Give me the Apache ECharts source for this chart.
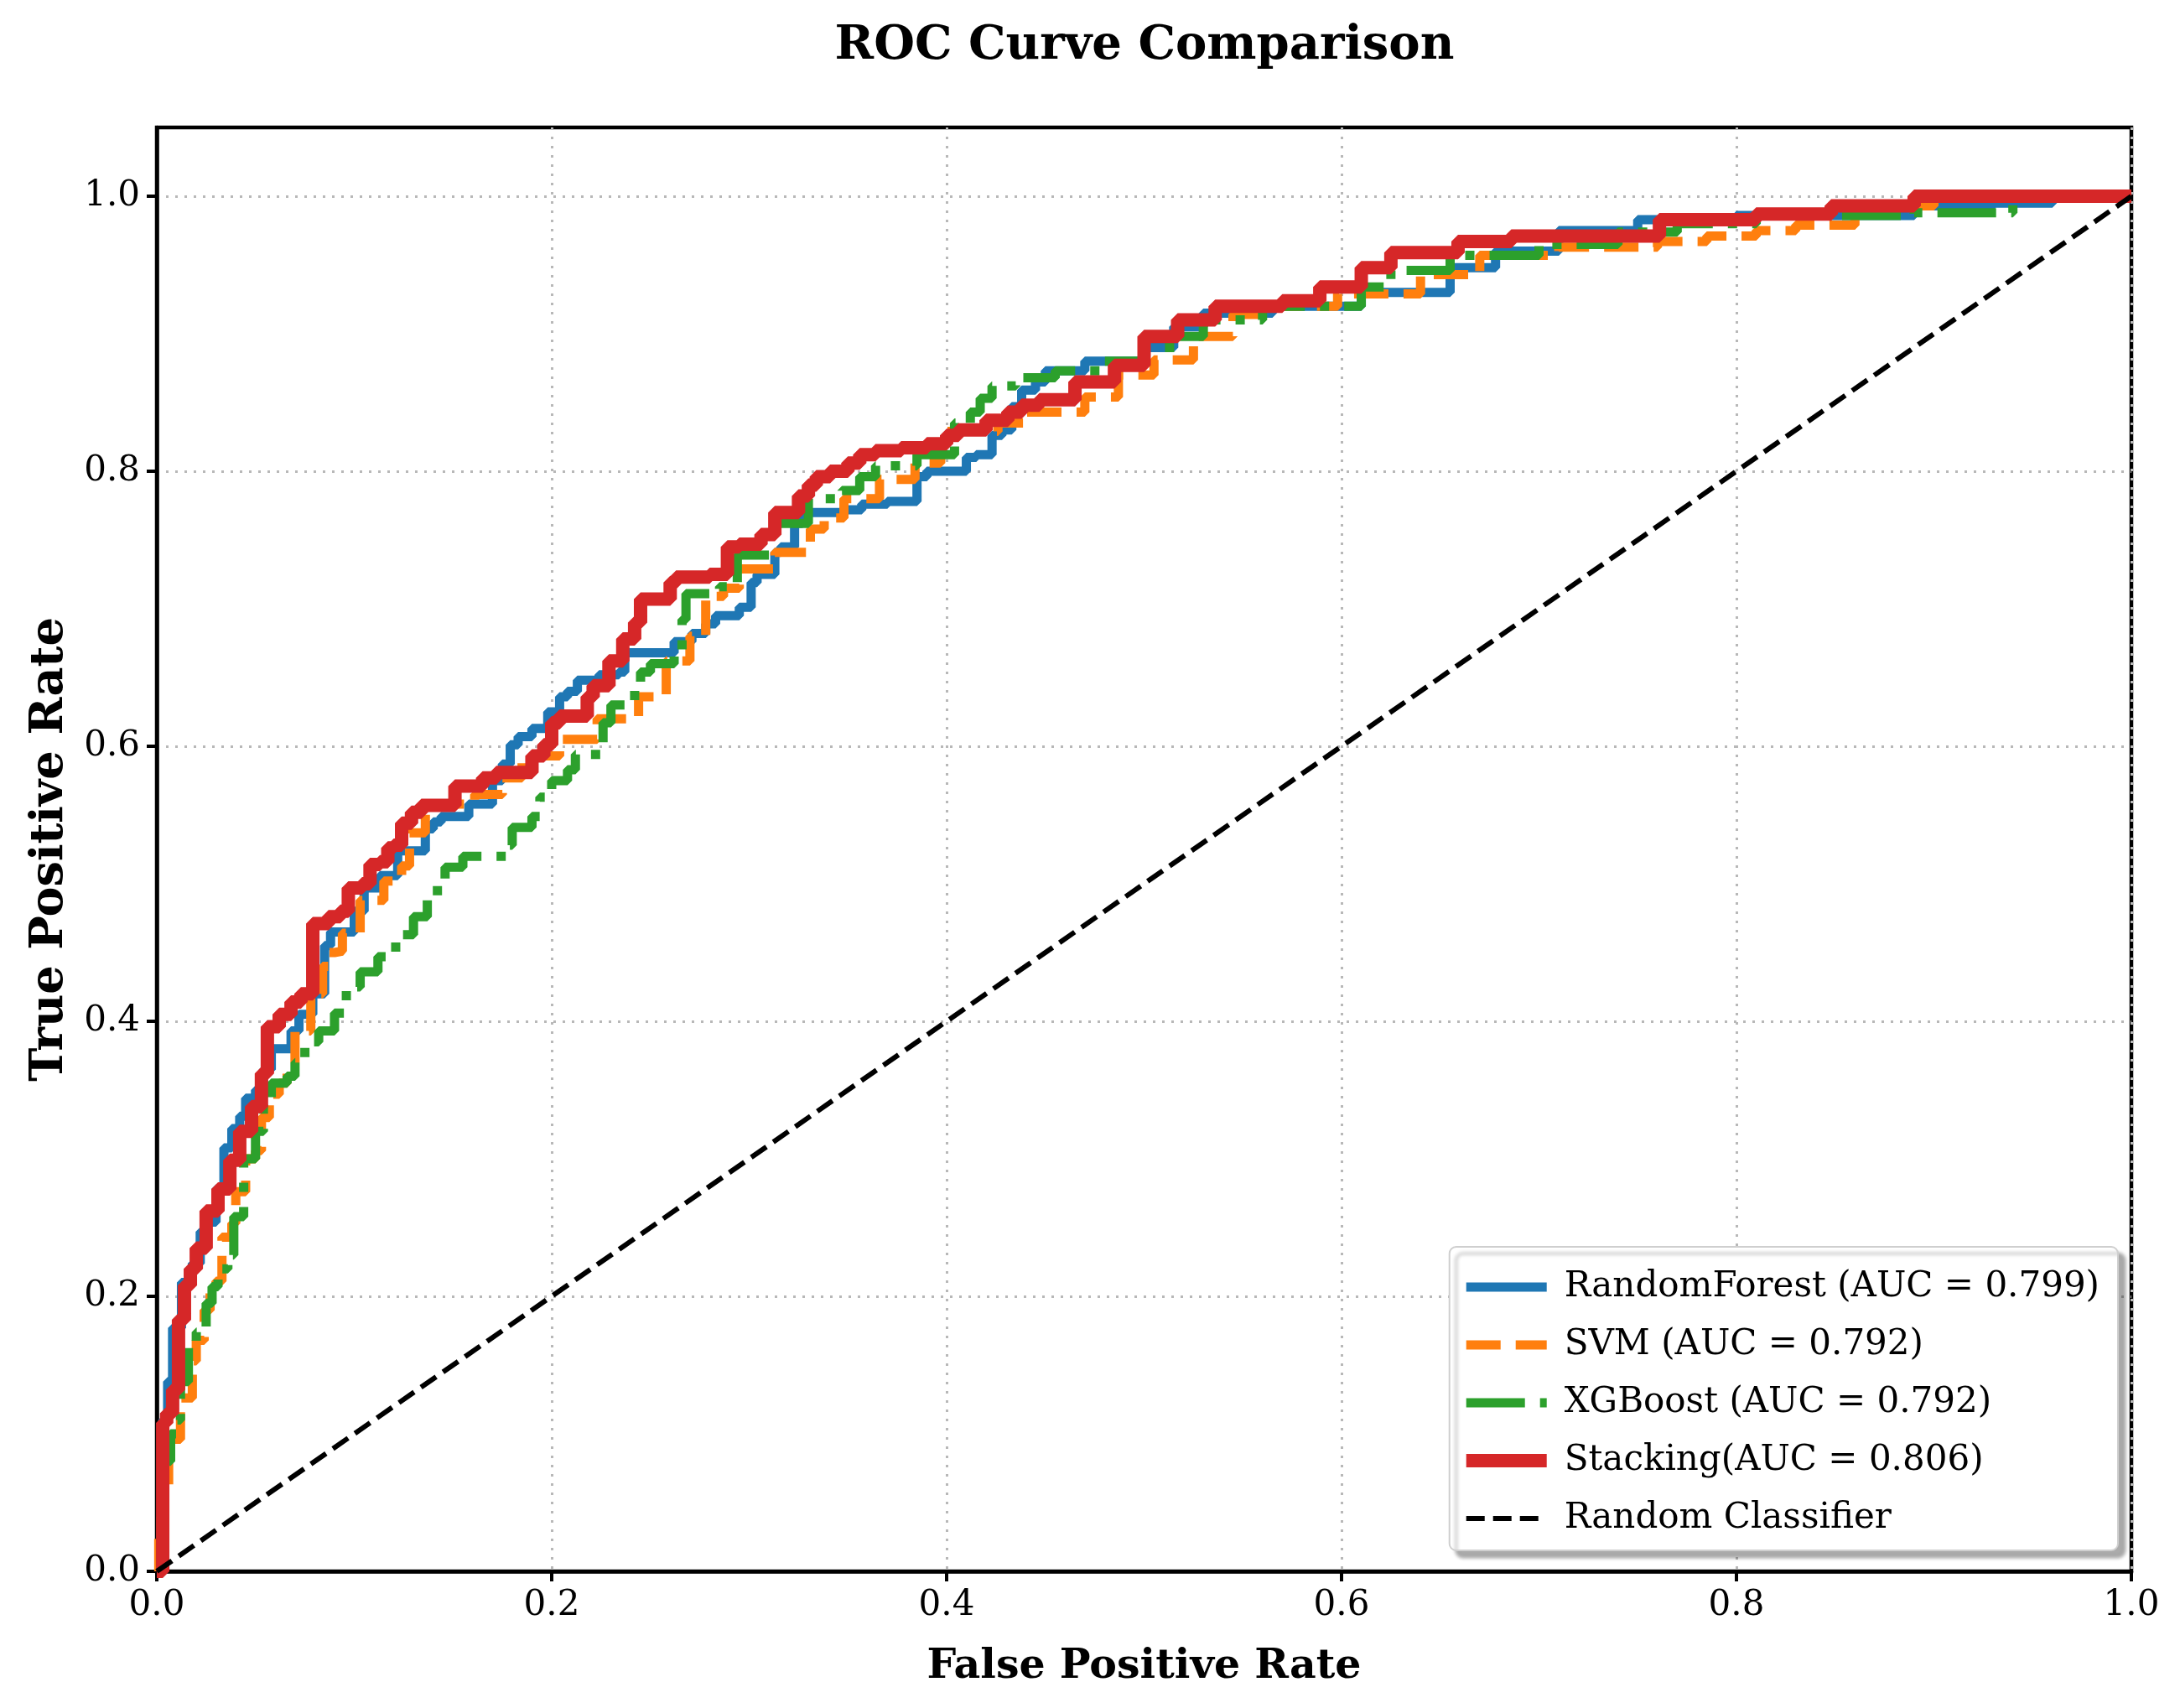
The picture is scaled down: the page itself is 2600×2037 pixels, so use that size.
<!DOCTYPE html>
<html>
<head>
<meta charset="utf-8">
<script src="https://cdn.jsdelivr.net/npm/echarts@6/dist/echarts.min.js"></script>
<style>html,body{margin:0;padding:0;background:#fff;}#chart{width:2600px;height:2037px;}</style>
</head>
<body>
<div id="chart"></div>
<script>
const titleText = 'ROC Curve Comparison';
const xName = 'False Positive Rate';
const yName = 'True Positive Rate';
const xTicks = [0, 0.2, 0.4, 0.6, 0.8, 1.0];
const yTicks = [0, 0.2, 0.4, 0.6, 0.8, 1.0];
const seriesNames = ['RandomForest (AUC = 0.799)', 'SVM (AUC = 0.792)', 'XGBoost (AUC = 0.792)', 'Stacking(AUC = 0.806)', 'Random Classifier'];

// [fpr, tpr] points (step: level starts at fpr)
const rfPoints = [[0,0],[0.003,0.11],[0.0055,0.138],[0.008,0.177],[0.0125,0.21],[0.018,0.224],[0.022,0.247],[0.025,0.254],[0.03,0.278],[0.034,0.308],[0.038,0.322],[0.042,0.331],[0.045,0.344],[0.05,0.35],[0.054,0.365],[0.058,0.38],[0.068,0.393],[0.072,0.405],[0.079,0.42],[0.085,0.455],[0.088,0.465],[0.1,0.48],[0.105,0.497],[0.113,0.506],[0.122,0.524],[0.136,0.54],[0.14,0.545],[0.144,0.549],[0.158,0.558],[0.17,0.575],[0.175,0.587],[0.179,0.601],[0.183,0.607],[0.19,0.613],[0.198,0.625],[0.204,0.636],[0.208,0.64],[0.213,0.648],[0.224,0.652],[0.234,0.654],[0.237,0.668],[0.262,0.676],[0.271,0.682],[0.278,0.689],[0.283,0.695],[0.295,0.701],[0.301,0.719],[0.304,0.725],[0.313,0.741],[0.316,0.745],[0.323,0.762],[0.327,0.77],[0.347,0.772],[0.357,0.776],[0.37,0.778],[0.385,0.796],[0.39,0.8],[0.41,0.81],[0.415,0.812],[0.423,0.826],[0.428,0.83],[0.433,0.847],[0.438,0.859],[0.445,0.865],[0.45,0.873],[0.47,0.88],[0.5,0.89],[0.515,0.905],[0.53,0.915],[0.565,0.92],[0.61,0.93],[0.655,0.948],[0.678,0.96],[0.71,0.975],[0.75,0.983],[0.8,0.986],[0.89,0.993],[0.93,0.995],[0.96,1.0],[1,1]];
const svmPoints = [[0,0],[0.001,0.03],[0.004,0.06],[0.006,0.096],[0.012,0.126],[0.018,0.153],[0.02,0.168],[0.024,0.19],[0.027,0.205],[0.03,0.211],[0.033,0.243],[0.038,0.253],[0.04,0.276],[0.045,0.3],[0.05,0.306],[0.053,0.33],[0.057,0.347],[0.062,0.355],[0.066,0.37],[0.07,0.393],[0.078,0.42],[0.084,0.44],[0.087,0.45],[0.09,0.451],[0.094,0.464],[0.103,0.488],[0.115,0.502],[0.124,0.513],[0.128,0.537],[0.136,0.558],[0.161,0.565],[0.175,0.577],[0.185,0.593],[0.204,0.605],[0.223,0.62],[0.244,0.636],[0.258,0.662],[0.27,0.68],[0.278,0.709],[0.287,0.715],[0.295,0.729],[0.313,0.741],[0.331,0.758],[0.338,0.766],[0.348,0.78],[0.366,0.794],[0.384,0.806],[0.397,0.829],[0.426,0.835],[0.44,0.843],[0.47,0.854],[0.487,0.87],[0.505,0.881],[0.525,0.898],[0.545,0.914],[0.565,0.92],[0.598,0.929],[0.64,0.943],[0.67,0.957],[0.71,0.963],[0.76,0.967],[0.785,0.971],[0.81,0.975],[0.83,0.979],[0.86,0.993],[0.9,1.0],[1,1]];
const xgbPoints = [[0,0],[0.002,0.05],[0.004,0.08],[0.007,0.1],[0.01,0.11],[0.012,0.138],[0.016,0.163],[0.02,0.174],[0.025,0.195],[0.028,0.207],[0.031,0.22],[0.036,0.23],[0.039,0.258],[0.044,0.3],[0.05,0.32],[0.054,0.34],[0.058,0.355],[0.066,0.36],[0.07,0.37],[0.075,0.385],[0.082,0.393],[0.09,0.406],[0.096,0.425],[0.103,0.436],[0.112,0.447],[0.121,0.463],[0.13,0.476],[0.137,0.495],[0.146,0.512],[0.155,0.52],[0.177,0.528],[0.18,0.541],[0.19,0.549],[0.194,0.563],[0.2,0.575],[0.208,0.583],[0.212,0.594],[0.226,0.617],[0.23,0.63],[0.242,0.644],[0.245,0.654],[0.25,0.66],[0.262,0.67],[0.266,0.692],[0.268,0.711],[0.285,0.716],[0.294,0.739],[0.31,0.762],[0.33,0.78],[0.347,0.786],[0.356,0.796],[0.364,0.804],[0.385,0.812],[0.404,0.835],[0.412,0.843],[0.417,0.853],[0.423,0.862],[0.435,0.868],[0.455,0.873],[0.48,0.88],[0.5,0.89],[0.516,0.898],[0.53,0.91],[0.56,0.92],[0.61,0.934],[0.625,0.946],[0.655,0.957],[0.7,0.965],[0.74,0.974],[0.77,0.98],[0.81,0.986],[0.89,0.988],[0.94,1.0],[1,1]];
const stackingPoints = [[0,0],[0.003,0.108],[0.005,0.115],[0.008,0.132],[0.011,0.183],[0.014,0.208],[0.017,0.22],[0.02,0.235],[0.025,0.262],[0.031,0.278],[0.037,0.299],[0.042,0.32],[0.048,0.338],[0.053,0.362],[0.056,0.396],[0.062,0.405],[0.068,0.414],[0.073,0.42],[0.079,0.471],[0.087,0.476],[0.093,0.48],[0.097,0.497],[0.104,0.5],[0.108,0.514],[0.113,0.516],[0.117,0.526],[0.12,0.528],[0.124,0.544],[0.129,0.552],[0.134,0.557],[0.151,0.571],[0.165,0.577],[0.172,0.581],[0.19,0.593],[0.196,0.601],[0.2,0.617],[0.204,0.622],[0.218,0.636],[0.221,0.644],[0.229,0.662],[0.236,0.678],[0.242,0.69],[0.245,0.707],[0.26,0.719],[0.263,0.723],[0.28,0.725],[0.289,0.745],[0.295,0.747],[0.306,0.754],[0.313,0.77],[0.325,0.782],[0.33,0.79],[0.334,0.796],[0.341,0.8],[0.35,0.806],[0.356,0.812],[0.364,0.815],[0.377,0.817],[0.39,0.82],[0.4,0.826],[0.406,0.83],[0.42,0.837],[0.431,0.843],[0.438,0.848],[0.447,0.852],[0.465,0.865],[0.485,0.877],[0.5,0.898],[0.517,0.91],[0.536,0.92],[0.57,0.924],[0.589,0.934],[0.61,0.948],[0.625,0.959],[0.659,0.967],[0.686,0.971],[0.761,0.983],[0.81,0.987],[0.848,0.993],[0.89,1.0],[1,1]];
const randomPoints = [[0,0],[1,1]];

const FONT = 'DejaVu Serif';
const chart = echarts.init(document.getElementById('chart'), null, {renderer: 'canvas'});

function fmt(v) { return (Math.abs(v * 5 - Math.round(v * 5)) < 1e-6) ? v.toFixed(1) : ''; }

const option = {
  backgroundColor: '#ffffff',
  animation: false,
  title: {
    text: titleText,
    left: 1360,
    top: 22,
    textAlign: 'center',
    textStyle: {fontFamily: FONT, fontWeight: 'bold', fontSize: 56, color: '#000'}
  },
  grid: {
    left: 187, right: 58, top: 152, bottom: 163,
    show: true, borderColor: '#000', borderWidth: 4.5, backgroundColor: 'transparent'
  },
  legend: {
    orient: 'vertical',
    right: 74, top: 1487,
    padding: [27, 22, 17, 12],
    itemWidth: 96, itemHeight: 20, itemGap: 27,
    selectedMode: false,
    backgroundColor: '#ffffff',
    borderColor: '#cfcfcf', borderWidth: 2, borderRadius: 8,
    shadowColor: 'rgba(0,0,0,0.33)', shadowBlur: 4, shadowOffsetX: 8, shadowOffsetY: 8,
    itemStyle: {opacity: 0},
    lineStyle: {width: 'inherit', type: 'inherit', color: 'inherit'},
    textStyle: {fontFamily: FONT, fontSize: 42, color: '#000', padding: [0, 0, 0, 16]},
    data: seriesNames
  },
  xAxis: {
    type: 'value', min: 0, max: 1, interval: 0.2,
    name: xName, nameLocation: 'middle', nameGap: 90,
    nameTextStyle: {fontFamily: FONT, fontWeight: 'bold', fontSize: 49, color: '#000'},
    axisLine: {show: true, lineStyle: {color: '#000', width: 4.5}},
    axisTick: {show: true, length: 12, lineStyle: {color: '#000', width: 4}, customValues: xTicks},
    axisLabel: {fontFamily: FONT, fontSize: 42, color: '#000', margin: 20, formatter: fmt, customValues: xTicks},
    splitLine: {show: true, lineStyle: {color: '#b8b8b8', width: 3, type: [3, 8]}}
  },
  yAxis: {
    type: 'value', min: 0, max: 1.05, interval: 0.2,
    name: yName, nameLocation: 'middle', nameGap: 100, nameRotate: 90,
    nameTextStyle: {fontFamily: FONT, fontWeight: 'bold', fontSize: 54, color: '#000'},
    axisLine: {show: true, lineStyle: {color: '#000', width: 4.5}},
    axisTick: {show: true, length: 12, lineStyle: {color: '#000', width: 4}, customValues: yTicks},
    axisLabel: {fontFamily: FONT, fontSize: 42, color: '#000', margin: 20, formatter: fmt, customValues: yTicks},
    splitLine: {show: true, lineStyle: {color: '#b8b8b8', width: 3, type: [3, 8]}}
  },
  series: [
    {name: seriesNames[0], type: 'line', step: 'end', data: rfPoints, symbol: 'none', z: 2,
     lineStyle: {color: '#1f77b4', width: 11}, itemStyle: {color: '#1f77b4'}},
    {name: seriesNames[1], type: 'line', step: 'end', data: svmPoints, symbol: 'none', z: 3,
     lineStyle: {color: '#ff7f0e', width: 11, type: [41, 18]}, itemStyle: {color: '#ff7f0e'}},
    {name: seriesNames[2], type: 'line', step: 'end', data: xgbPoints, symbol: 'none', z: 4,
     lineStyle: {color: '#2ca02c', width: 11, type: [70, 18, 11, 18]}, itemStyle: {color: '#2ca02c'}},
    {name: seriesNames[3], type: 'line', step: 'end', data: stackingPoints, symbol: 'none', z: 5,
     lineStyle: {color: '#d62728', width: 16}, itemStyle: {color: '#d62728'}},
    {name: seriesNames[4], type: 'line', data: randomPoints, symbol: 'none', z: 6,
     lineStyle: {color: '#000', width: 6, type: [22, 10]}, itemStyle: {color: '#000'}}
  ]
};
chart.setOption(option);
</script>
</body>
</html>
